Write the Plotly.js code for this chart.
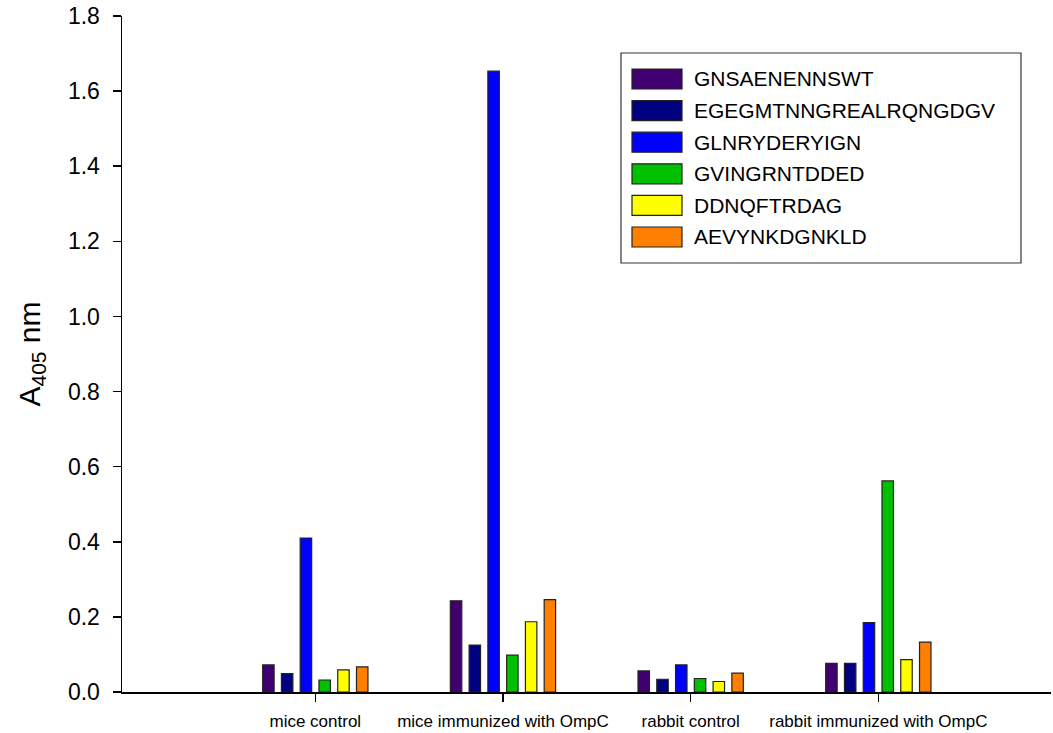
<!DOCTYPE html>
<html>
<head>
<meta charset="utf-8">
<script src="https://cdn.plot.ly/plotly-3.0.1.min.js"></script>
<style>html,body{margin:0;padding:0;background:#fff;}#chart{width:1053px;height:733px;}</style>
</head>
<body>
<div id="chart"></div>
<script>
var groups = ["mice control", "mice immunized with OmpC", "rabbit control", "rabbit immunized with OmpC"];
var groupPos = [1, 2, 3, 4];
var peptides = ["GNSAENENNSWT", "EGEGMTNNGREALRQNGDGV", "GLNRYDERYIGN", "GVINGRNTDDED", "DDNQFTRDAG", "AEVYNKDGNKLD"];
var colors = ["#400070", "#000080", "#0000ff", "#00c000", "#ffff00", "#ff8000"];
var GNSAENENNSWT = [0.072, 0.243, 0.056, 0.076];
var EGEGMTNNGREALRQNGDGV = [0.049, 0.125, 0.034, 0.076];
var GLNRYDERYIGN = [0.41, 1.653, 0.072, 0.185];
var GVINGRNTDDED = [0.032, 0.098, 0.036, 0.562];
var DDNQFTRDAG = [0.059, 0.187, 0.028, 0.086];
var AEVYNKDGNKLD = [0.067, 0.246, 0.05, 0.133];
var series = [GNSAENENNSWT, EGEGMTNNGREALRQNGDGV, GLNRYDERYIGN, GVINGRNTDDED, DDNQFTRDAG, AEVYNKDGNKLD];

var font = "Liberation Sans, Arial, sans-serif";
var W = 1053, H = 733, mL = 122, mR = 2, mT = 16, mB = 41;
var pw = W - mL - mR, ph = H - mT - mB;
function px(x) { return (x - mL) / pw; }
function py(y) { return (H - mB - y) / ph; }

var traces = peptides.map(function(name, i) {
  return {
    type: "bar",
    name: name,
    x: groupPos,
    y: series[i],
    showlegend: false,
    marker: {color: colors[i], line: {color: "#222", width: 1.2}}
  };
});

// legend box drawn as shapes + annotations
var shapes = [{
  type: "rect", xref: "paper", yref: "paper",
  x0: px(621), x1: px(1021), y0: py(263), y1: py(53),
  line: {color: "#333", width: 1.2}, fillcolor: "#fff", layer: "above"
}];
var annotations = [];
peptides.forEach(function(name, i) {
  var cy = 79 + i * 31.6;
  shapes.push({
    type: "rect", xref: "paper", yref: "paper",
    x0: px(632), x1: px(682), y0: py(cy + 10), y1: py(cy - 10),
    line: {color: "#222", width: 1.2}, fillcolor: colors[i], layer: "above"
  });
  annotations.push({
    xref: "paper", yref: "paper", x: px(692), y: py(cy),
    xanchor: "left", yanchor: "middle", showarrow: false,
    text: name, font: {family: font, size: 21, color: "#000"}
  });
});

var layout = {
  width: W, height: H,
  margin: {l: mL, r: mR, t: mT, b: mB},
  paper_bgcolor: "#fff", plot_bgcolor: "#fff",
  barmode: "group", bargap: 0.4, bargroupgap: 0.39,
  font: {family: font, color: "#000"},
  showlegend: false,
  shapes: shapes,
  annotations: annotations,
  xaxis: {
    range: [-0.03, 4.92], tickvals: groupPos, ticktext: groups,
    showgrid: false, zeroline: false, showline: true, linecolor: "#000", linewidth: 2,
    ticks: "outside", ticklen: 8, tickwidth: 1.5, tickcolor: "#000",
    ticklabelstandoff: 5,
    tickfont: {family: font, size: 17, color: "#000"}
  },
  yaxis: {
    range: [0, 1.8], dtick: 0.2, tickformat: ".1f",
    showgrid: false, zeroline: false, showline: true, linecolor: "#000", linewidth: 1.5,
    ticks: "outside", ticklen: 8, tickwidth: 1.5, tickcolor: "#000",
    ticklabelstandoff: 8,
    tickfont: {family: font, size: 23, color: "#000"},
    title: {text: "A<sub>405</sub> nm", font: {family: font, size: 30, color: "#000"}, standoff: 18}
  }
};

Plotly.newPlot("chart", traces, layout, {displayModeBar: false, staticPlot: true});
</script>
</body>
</html>
